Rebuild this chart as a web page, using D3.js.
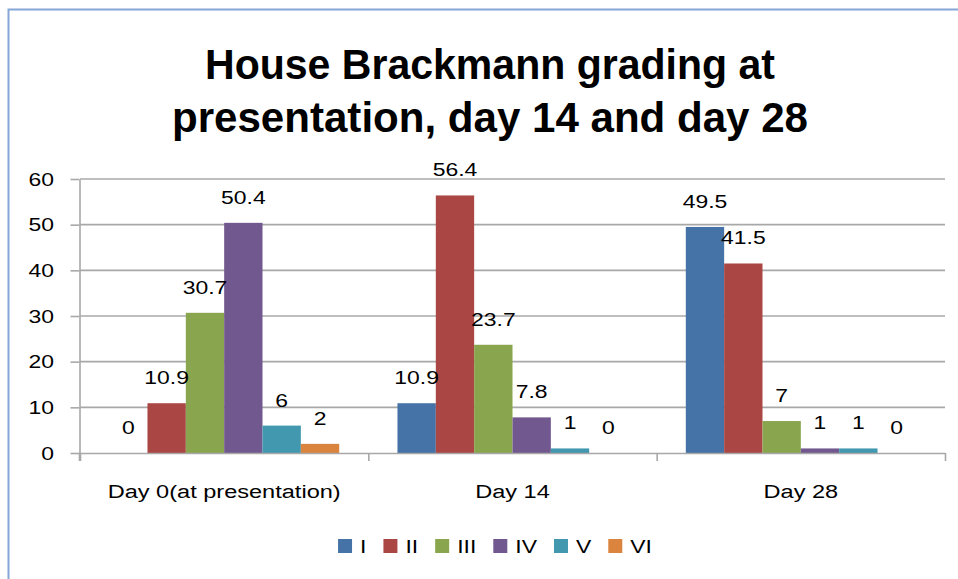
<!DOCTYPE html>
<html>
<head>
<meta charset="utf-8">
<script src="https://cdn.jsdelivr.net/npm/d3@7/dist/d3.min.js"></script>
<style>
  html, body { margin: 0; padding: 0; background: #fff; }
  svg { display: block; font-family: "Liberation Sans", Arial, sans-serif; }
</style>
</head>
<body>
<svg id="chart" width="958" height="579"></svg>
<script>
// chart data
const categories = ['Day 0(at presentation)', 'Day 14', 'Day 28'];
const grades = ['I', 'II', 'III', 'IV', 'V', 'VI'];
const gradeI   = [0, 10.9, 49.5];
const gradeII  = [10.9, 56.4, 41.5];
const gradeIII = [30.7, 23.7, 7];
const gradeIV  = [50.4, 7.8, 1];
const gradeV   = [6, 1, 1];
const gradeVI  = [2, 0, 0];
const yTicks = [0, 10, 20, 30, 40, 50, 60];
const titleLines = ['House Brackmann grading at', 'presentation, day 14 and day 28'];

const series = [gradeI, gradeII, gradeIII, gradeIV, gradeV, gradeVI];
const colors = ['#4572A7', '#AA4643', '#89A54E', '#71588F', '#4198AF', '#DB843D'];

const svg = d3.select('#chart');
const width = 958;
const height = 579;
const margin = { top: 179, right: 13, bottom: 126, left: 80 };
const SX = 1.24; // labels in the picture are a bit wide
const FS = 18.5;

// put a text at (x, y) with a horizontal stretch
function place(sel, x, y) {
  sel.attr('transform', (d, i) => `translate(${typeof x === 'function' ? x(d, i) : x},${typeof y === 'function' ? y(d, i) : y}) scale(${SX},1)`);
}

// outer border (cropped on the right and bottom)
svg.append('rect')
  .attr('x', 8.5).attr('y', 9.5)
  .attr('width', 1000).attr('height', 700)
  .attr('fill', '#fff')
  .attr('stroke', '#86a6d8')
  .attr('stroke-width', 2);

// title
svg.append('g').selectAll('text')
  .data(titleLines)
  .enter()
  .append('text')
  .attr('x', 490)
  .attr('y', (d, i) => 79 + i * 53)
  .attr('text-anchor', 'middle')
  .attr('font-size', 43)
  .attr('font-weight', 'bold')
  .attr('textLength', (d, i) => i === 0 ? 570 : 636)
  .attr('lengthAdjust', 'spacingAndGlyphs')
  .text(d => d);

const x0 = d3.scaleBand()
  .domain(categories)
  .range([margin.left, width - margin.right])
  .padding(0);

const x1 = d3.scaleBand()
  .domain(grades)
  .range([0, x0.bandwidth()])
  .paddingInner(0)
  .paddingOuter(0.76);

const y = d3.scaleLinear()
  .domain([0, 60])
  .range([height - margin.bottom, margin.top]);

// gridlines
svg.append('g')
  .selectAll('line')
  .data(yTicks.slice(1))
  .enter()
  .append('line')
  .attr('x1', margin.left)
  .attr('x2', width - margin.right)
  .attr('y1', d => y(d))
  .attr('y2', d => y(d))
  .attr('stroke', '#a8a8a8')
  .attr('stroke-width', 1.6);

// bars
const groups = svg.append('g')
  .selectAll('g')
  .data(categories)
  .enter()
  .append('g')
  .attr('transform', d => `translate(${x0(d)},0)`);

groups.selectAll('rect')
  .data((c, ci) => grades.map((g, gi) => ({ g, gi, v: series[gi][ci] })))
  .enter()
  .append('rect')
  .attr('x', d => x1(d.g))
  .attr('y', d => y(d.v))
  .attr('width', x1.bandwidth())
  .attr('height', d => y(0) - y(d.v))
  .attr('fill', d => colors[d.gi]);

// data labels
groups.selectAll('text')
  .data((c, ci) => grades.map((g, gi) => ({ g, gi, v: series[gi][ci] })))
  .enter()
  .append('text')
  .attr('text-anchor', 'middle')
  .attr('font-size', FS)
  .attr('fill', '#000')
  .text(d => d.v)
  .call(place, d => x1(d.g) + x1.bandwidth() / 2, d => y(d.v) - 19);

// x axis with boundary ticks
const xb = d3.scaleLinear().domain([0, categories.length]).range([margin.left, width - margin.right]);
const xAxis = svg.append('g')
  .attr('transform', `translate(0,${y(0)})`)
  .call(d3.axisBottom(xb).tickValues(d3.range(categories.length + 1)).tickSize(8).tickSizeOuter(0).tickFormat(''));
xAxis.select('.domain').attr('stroke', '#a8a8a8').attr('stroke-width', 1.6);
xAxis.selectAll('.tick line').attr('stroke', '#a8a8a8').attr('stroke-width', 1.6);

// category labels
svg.append('g').selectAll('text')
  .data(categories)
  .enter()
  .append('text')
  .attr('text-anchor', 'middle')
  .attr('font-size', 19)
  .attr('fill', '#000')
  .text(d => d)
  .call(place, d => x0(d) + x0.bandwidth() / 2, 498);

// y axis
const yAxis = svg.append('g')
  .attr('transform', `translate(${margin.left - 0.5},0)`)
  .call(d3.axisLeft(y).tickValues(yTicks).tickSize(9).tickSizeOuter(0).tickFormat(''));
yAxis.select('.domain').attr('stroke', '#a8a8a8').attr('stroke-width', 1.6);
yAxis.selectAll('.tick line').attr('stroke', '#a8a8a8').attr('stroke-width', 1.6);
svg.append('line')
  .attr('x1', margin.left - 0.5).attr('x2', margin.left - 0.5)
  .attr('y1', y(0)).attr('y2', y(0) + 8)
  .attr('stroke', '#a8a8a8').attr('stroke-width', 1.6);

svg.append('g').selectAll('text')
  .data(yTicks)
  .enter()
  .append('text')
  .attr('text-anchor', 'end')
  .attr('font-size', FS)
  .attr('fill', '#000')
  .attr('dy', '0.36em')
  .text(d => d)
  .call(place, 54, d => y(d));

// legend
const legend = svg.append('g');
const items = legend.selectAll('g')
  .data(grades)
  .enter()
  .append('g');
items.append('rect')
  .attr('width', 14)
  .attr('height', 14)
  .attr('y', -14)
  .attr('fill', (d, i) => colors[i]);
items.append('text')
  .attr('font-size', FS)
  .attr('fill', '#000')
  .text(d => d)
  .call(place, 22, 0);

let cursor = 0;
items.each(function () {
  const tw = d3.select(this).select('text').node().getComputedTextLength() * SX;
  d3.select(this).attr('data-x', cursor);
  cursor += 22 + tw + 17;
});
const legendWidth = cursor - 17;
const legendLeft = 495 - legendWidth / 2;
items.attr('transform', function () {
  return `translate(${legendLeft + (+d3.select(this).attr('data-x'))},553)`;
});
</script>
</body>
</html>
